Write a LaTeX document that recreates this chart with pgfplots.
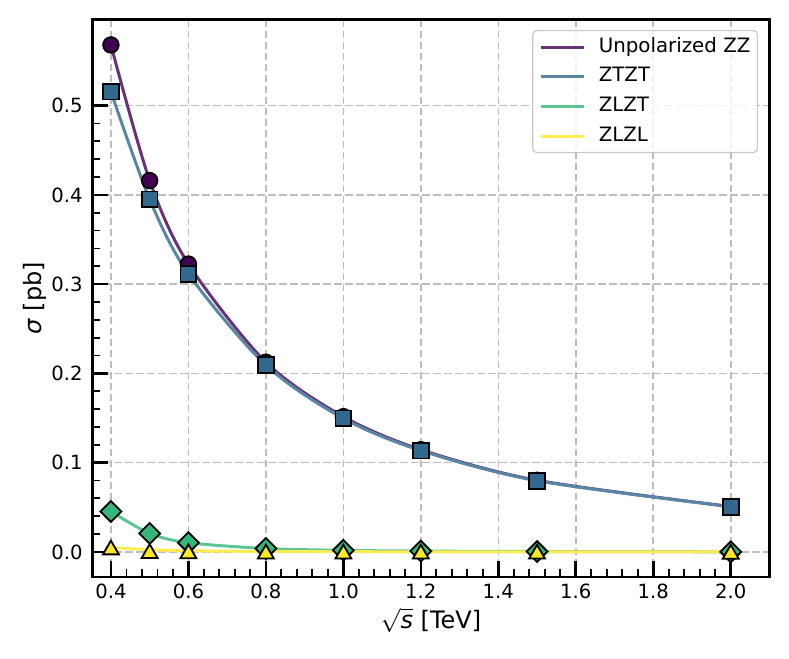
\documentclass[border=0pt]{standalone}
\usepackage{pgfplots}
\pgfplotsset{compat=1.18}
\usepackage{fontspec}
\setmainfont{DejaVu Sans}
\definecolor{cUl}{HTML}{693476}
\definecolor{cTl}{HTML}{5A86A5}
\definecolor{cLTl}{HTML}{5DC594}
\definecolor{cLLl}{HTML}{FDEC51}
\definecolor{cU}{HTML}{440154}
\definecolor{cT}{HTML}{31688E}
\definecolor{cLT}{HTML}{35B779}
\definecolor{cLL}{HTML}{FDE725}
\definecolor{gridc}{HTML}{BDBDBD}
\begin{document}
\begin{tikzpicture}
\useasboundingbox (-46.15pt,-40.5pt) rectangle (348.25pt,288.5pt);
\begin{axis}[
  scale only axis,
  width=338.5pt, height=278.75pt,
  xmin=0.352, xmax=2.1,
  ymin=-0.0283, ymax=0.5965,
  xtick={0.4,0.6,0.8,1.0,1.2,1.4,1.6,1.8,2.0},
  ytick={0,0.1,0.2,0.3,0.4,0.5},
  minor x tick num=4, minor y tick num=4,
  xtick pos=left, ytick pos=left,
  tick align=inside,
  major tick length=8pt, minor tick length=4pt,
  major tick style={line width=1.3pt, black},
  minor tick style={line width=0.9pt, black},
  axis line style={line width=1.2pt},
  grid=major,
  major grid style={gridc, line width=0.8pt, dash pattern=on 3.7pt off 1.8pt},
  ticklabel style={font=\fontsize{9.8}{11}\selectfont},
  /pgf/number format/assume math mode=true,
  /pgf/number format/fixed,
  /pgf/number format/fixed zerofill,
  /pgf/number format/precision=1,
  yticklabel style={xshift=-1.3pt},
  xlabel={$\sqrt{\mbox{\textit{s}}}$ [TeV]},
  ylabel={\textit{σ} [pb]},
  label style={font=\fontsize{12}{14}\selectfont},
  xlabel style={at={(axis description cs:0.5,0)}, anchor=center, yshift=-21.5pt},
  ylabel style={at={(axis description cs:-0.0846,0.5)}, anchor=center},
  legend style={at={(axis description cs:1,1)}, anchor=north east,
    xshift=-5.75pt, yshift=-5.25pt,
    draw=black!22, line width=0.6pt, rounded corners=2pt, fill=white, fill opacity=0.8, text opacity=1,
    font=\fontsize{9.9}{11}\selectfont,
    inner xsep=3.5pt, inner ysep=3.2pt,
    nodes={inner sep=0pt, text height=7.5pt, text depth=2.5pt},
    row sep=4.85pt,
    /tikz/every odd column/.append style={column sep=6.5pt}},
  legend cell align=left,
  legend image code/.code={\draw[#1, line width=1.5pt] (0pt,0pt) -- (21.5pt,0pt);},
]
% lines
\addplot[cUl, line width=1.5pt, smooth, no marks] coordinates {
(0.4,0.568) (0.5,0.416) (0.6,0.3225) (0.8,0.2125) (1.0,0.1515) (1.2,0.1145) (1.5,0.0802) (2.0,0.0508)};
\addlegendentry{Unpolarized ZZ}
\addplot[cTl, line width=1.5pt, smooth, no marks] coordinates {
(0.4,0.5157) (0.5,0.395) (0.6,0.3115) (0.8,0.2092) (1.0,0.1495) (1.2,0.1135) (1.5,0.0797) (2.0,0.0506)};
\addlegendentry{ZTZT}
\addplot[cLTl, line width=1.5pt, smooth, no marks] coordinates {
(0.4,0.0453) (0.5,0.0207) (0.6,0.0103) (0.8,0.0038) (1.0,0.0017) (1.2,0.0009) (1.5,0.0004) (2.0,0.0001)};
\addlegendentry{ZLZT}
\addplot[cLLl, line width=1.5pt, smooth, no marks] coordinates {
(0.4,0.0048) (0.5,0.0025) (0.6,0.0012) (0.8,0.0005) (1.0,0.0002) (1.2,0.0001) (1.5,0.0001) (2.0,0.0000)};
\addlegendentry{ZLZL}
% markers
\addplot[only marks, forget plot, mark=*, mark size=3.9pt,
  mark options={fill=cU, draw=black, line width=0.9pt}] coordinates {
(0.4,0.568) (0.5,0.416) (0.6,0.3225) (0.8,0.2125) (1.0,0.1515) (1.2,0.1145) (1.5,0.0802) (2.0,0.0508)};
\addplot[only marks, forget plot, mark=square*, mark size=3.95pt,
  mark options={fill=cT, draw=black, line width=0.9pt}] coordinates {
(0.4,0.5157) (0.5,0.395) (0.6,0.3115) (0.8,0.2092) (1.0,0.1495) (1.2,0.1135) (1.5,0.0797) (2.0,0.0506)};
\addplot[only marks, forget plot, mark=square*, mark size=3.7pt,
  mark options={fill=cLT, draw=black, line width=0.9pt, rotate=45}] coordinates {
(0.4,0.0453) (0.5,0.0207) (0.6,0.0103) (0.8,0.0038) (1.0,0.0017) (1.2,0.0009) (1.5,0.0004) (2.0,0.0001)};
\addplot[only marks, forget plot, mark=triangle*, mark size=4.6pt,
  mark options={fill=cLL, draw=black, line width=0.9pt, yshift=-1.1pt}] coordinates {
(0.4,0.0048) (0.5,0.0008) (0.6,0.0005) (0.8,0.0002) (1.0,0.0001) (1.2,0.0001) (1.5,0.0001) (2.0,0.0000)};
\end{axis}
\end{tikzpicture}
\end{document}
